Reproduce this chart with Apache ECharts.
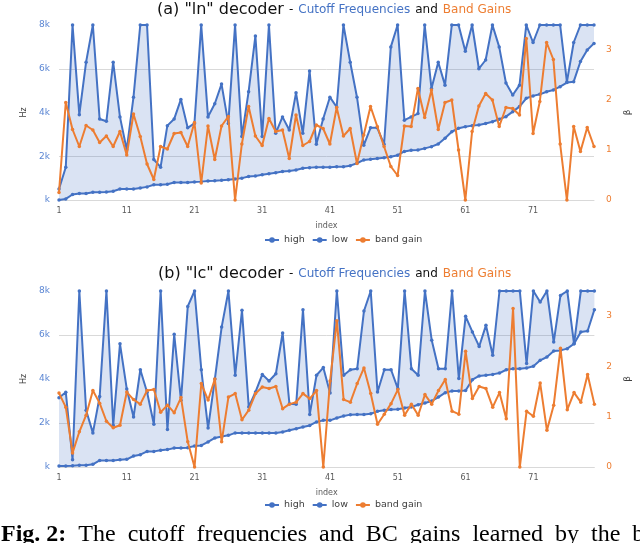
<!DOCTYPE html>
<html><head><meta charset="utf-8">
<script src="https://cdn.jsdelivr.net/npm/echarts@6/dist/echarts.min.js"></script>
<style>html,body{margin:0;padding:0;background:#fff;overflow:hidden}#c{width:640px;height:543px}</style>
</head><body><div id="c"></div>
<script>
const categories = [1,2,3,4,5,6,7,8,9,10,11,12,13,14,15,16,17,18,19,20,21,22,23,24,25,26,27,28,29,30,31,32,33,34,35,36,37,38,39,40,41,42,43,44,45,46,47,48,49,50,51,52,53,54,55,56,57,58,59,60,61,62,63,64,65,66,67,68,69,70,71,72,73,74,75,76,77,78,79,80];
const hzTicks = ['k','2k','4k','6k','8k'];

// (a) "ln" decoder, kHz and beta
const lnHigh = [0.5,1.5,8,3.9,6.3,8,3.7,3.6,6.3,3.8,2.3,4.7,8,8,1.85,1.5,3.4,3.7,4.6,3.3,3.5,8,3.8,4.4,5.3,3.5,8,2.9,4.95,7.5,2.9,8,3.05,3.8,3.2,4.9,3.05,5.9,2.55,3.7,4.7,4.25,8,6.3,4.7,2.5,3.3,3.3,2.55,7.0,8,3.65,3.8,3.95,8,5.1,6.3,5.25,8,8,6.8,8,6.0,6.4,8,7.0,5.35,4.8,5.25,8,7.2,8,8,8,8,5.4,7.2,8,8,8];
const lnLow = [0.0,0.05,0.25,0.3,0.3,0.35,0.35,0.37,0.4,0.5,0.5,0.5,0.55,0.6,0.7,0.7,0.72,0.8,0.8,0.8,0.82,0.84,0.87,0.88,0.9,0.93,0.96,1.0,1.07,1.1,1.15,1.2,1.25,1.3,1.33,1.37,1.45,1.48,1.5,1.5,1.5,1.52,1.52,1.57,1.68,1.83,1.86,1.9,1.93,1.98,2.05,2.22,2.27,2.29,2.36,2.44,2.56,2.82,3.12,3.28,3.35,3.4,3.43,3.5,3.58,3.69,3.81,4.04,4.27,4.65,4.76,4.83,4.95,5.03,5.18,5.37,5.41,6.33,6.86,7.16];
const lnGain = [0.15,1.95,1.41,1.07,1.49,1.4,1.15,1.28,1.07,1.37,0.9,1.72,1.27,0.72,0.41,1.07,1.02,1.33,1.35,1.07,1.55,0.34,1.48,0.81,1.48,1.67,0,1.12,1.87,1.28,1.09,1.63,1.37,1.4,0.83,1.7,1.09,1.17,1.5,1.43,1.12,1.85,1.28,1.43,0.73,1.3,1.87,1.47,1.07,0.67,0.49,1.48,1.47,2.23,1.65,2.2,1.41,1.95,2.0,1.0,0,1.37,1.88,2.13,2.0,1.47,1.85,1.83,1.7,3.23,1.33,1.97,3.15,2.81,1.12,0,1.47,0.97,1.45,1.07];

// (b) "lc" decoder
const lcHigh = [3.15,3.4,0.33,8,2.58,1.55,3.2,8,1.9,5.6,3.55,2.27,4.42,3.4,1.94,8,1.7,6.03,3.03,7.3,8,4.42,1.77,4.0,6.36,8,4.17,7.12,2.73,3.41,4.21,3.91,4.24,6.09,2.88,2.85,7.15,2.39,4.17,4.52,3.36,8,4.17,4.42,4.47,7.09,8,3.41,4.42,4.42,3.56,8,4.47,4.17,8,5.76,4.47,4.47,8,4.02,6.85,6.14,5.48,6.44,5.08,8,8,8,8,4.7,8,7.5,8,5.68,7.8,8,5.6,8,8,8];
const lcLow = [0.05,0.05,0.06,0.08,0.08,0.12,0.3,0.3,0.3,0.33,0.35,0.5,0.56,0.71,0.71,0.76,0.79,0.86,0.86,0.88,0.95,0.98,1.14,1.32,1.39,1.44,1.55,1.55,1.55,1.55,1.55,1.55,1.55,1.59,1.67,1.74,1.82,1.89,2.05,2.12,2.12,2.23,2.32,2.38,2.39,2.39,2.42,2.53,2.58,2.61,2.63,2.68,2.73,2.83,2.91,3.0,3.18,3.38,3.45,3.45,3.48,3.97,4.14,4.17,4.21,4.27,4.42,4.47,4.47,4.5,4.58,4.85,5.0,5.27,5.3,5.38,5.6,6.14,6.18,7.15];
const lcGain = [1.47,1.19,0.28,0.7,1.03,1.52,1.27,0.91,0.78,0.83,1.49,1.34,1.25,1.52,1.54,1.09,1.23,1.08,1.38,0.5,0,1.66,1.33,1.75,0.5,1.39,1.46,0.94,1.13,1.46,1.59,1.56,1.6,1.16,1.25,1.29,1.46,1.36,1.52,0,1.71,2.91,1.34,1.29,1.66,1.97,1.46,0.85,1.05,1.26,1.54,1.03,1.25,1.03,1.44,1.25,1.52,1.74,1.11,1.05,2.3,1.36,1.6,1.56,1.19,1.48,0.96,3.15,0,1.11,1.01,1.67,0.73,1.23,2.36,1.14,1.48,1.29,1.84,1.25];

const captionWords = ['The', 'cutoff', 'frequencies', 'and', 'BC', 'gains', 'learned', 'by', 'the', 'band', 'decoders'];

const BLUE = '#4472c4', ORANGE = '#ed7d31', FONT = 'DejaVu Sans';

function diff(h, l) { return h.map((v, i) => +(v - l[i]).toFixed(3)); }

function axesFor(g, rMargin, rGap) {
  return {
    x: {
      type: 'category', gridIndex: g, data: categories, boundaryGap: false,
      axisLine: { lineStyle: { color: '#d9d9d9', width: 1 } },
      axisTick: { show: false },
      axisLabel: { interval: 9, color: '#595959', fontSize: 8, fontFamily: FONT, margin: 7 },
      name: 'index', nameLocation: 'middle', nameGap: 22,
      nameTextStyle: { color: '#595959', fontSize: 8, fontFamily: FONT },
      splitLine: { show: false }
    },
    yl: {
      type: 'value', gridIndex: g, min: 0, max: 8, interval: 2, position: 'left',
      axisLine: { show: false }, axisTick: { show: false },
      axisLabel: { color: '#5b86d3', fontSize: 9, fontFamily: FONT, margin: 9,
        formatter: v => hzTicks[Math.round(v / 2)] },
      splitLine: { show: true, lineStyle: { color: ['transparent', '#d9d9d9'], width: 1 } },
      name: 'Hz', nameLocation: 'middle', nameGap: 29, nameRotate: 90,
      nameTextStyle: { color: '#404040', fontSize: 8, fontFamily: FONT }
    },
    yr: {
      type: 'value', gridIndex: g, min: 0, max: 3.5, interval: 1, position: 'right',
      axisLine: { show: false }, axisTick: { show: false },
      axisLabel: { color: ORANGE, fontSize: 9, fontFamily: FONT, margin: rMargin, showMaxLabel: false,
        formatter: v => (v > 3 ? '' : String(v)) },
      splitLine: { show: false },
      name: 'β', nameLocation: 'middle', nameGap: rGap, nameRotate: 90,
      nameTextStyle: { color: '#404040', fontSize: 9, fontFamily: FONT }
    }
  };
}

function seriesFor(g, high, low, gain) {
  const xi = g, yl = g * 2, yr = g * 2 + 1, st = 'band' + g;
  const common = { type: 'line', xAxisIndex: xi, symbol: 'circle', symbolSize: 3.5,
    lineStyle: { width: 2 }, emphasis: { disabled: true }, animation: false };
  return [
    Object.assign({}, common, { name: 'low', yAxisIndex: yl, data: low, stack: st, color: BLUE, z: 4 }),
    { type: 'line', name: 'fill' + g, xAxisIndex: xi, yAxisIndex: yl, data: diff(high, low), stack: st,
      symbol: 'none', lineStyle: { opacity: 0, width: 0 }, areaStyle: { color: 'rgba(68,114,196,0.2)', opacity: 1 },
      silent: true, z: 1, animation: false },
    Object.assign({}, common, { name: 'high', yAxisIndex: yl, data: high, color: BLUE, z: 4 }),
    Object.assign({}, common, { name: 'band gain', yAxisIndex: yr, data: gain, color: ORANGE, z: 5 })
  ];
}

const a0 = axesFor(0, 12, 29), a1 = axesFor(1, 12, 26);
const titleRich = {
  a: { fontSize: 16, color: '#111', fontFamily: FONT, fontWeight: 'normal' },
  b: { fontSize: 12, color: '#111', fontFamily: FONT, fontWeight: 'normal' },
  c: { fontSize: 12, color: BLUE, fontFamily: FONT, fontWeight: 'normal' },
  e: { fontSize: 12, color: ORANGE, fontFamily: FONT, fontWeight: 'normal' }
};
const legendBase = { data: ['high', 'low', 'band gain'], left: 259, itemWidth: 14, itemHeight: 7, itemGap: 7,
  textStyle: { color: '#404040', fontSize: 9.5, fontFamily: FONT } };

const captionText = '{f|Fig. 2:}{s| }' + captionWords.map(w => '{t|' + w + '}').join('{s| }');

const option = {
  backgroundColor: '#fff',
  animation: false,
  title: [
    { text: '{a|(a) "ln" decoder} {b|-} {c|Cutoff Frequencies} {b|and} {e|Band Gains}', left: 157, top: 1, padding: 0,
      textStyle: { fontWeight: 'normal', rich: titleRich } },
    { text: '{a|(b) "lc" decoder} {b|-} {c|Cutoff Frequencies} {b|and} {e|Band Gains}', left: 158, top: 265, padding: 0,
      textStyle: { fontWeight: 'normal', rich: titleRich } }
  ],
  legend: [
    Object.assign({}, legendBase, { top: 230 }),
    Object.assign({}, legendBase, { top: 495 })
  ],
  grid: [
    { left: 59, top: 25, width: 544, height: 175 },
    { left: 59, top: 291, width: 552, height: 176 }
  ],
  xAxis: [a0.x, a1.x],
  yAxis: [a0.yl, a0.yr, a1.yl, a1.yr],
  series: seriesFor(0, lnHigh, lnLow, lnGain).concat(seriesFor(1, lcHigh, lcLow, lcGain)),
  graphic: [{
    type: 'text', left: 1, top: 523,
    style: {
      text: captionText,
      rich: {
        f: { font: 'bold 24px "Liberation Serif"', fill: '#000' },
        t: { font: '24px "Liberation Serif"', fill: '#000' },
        s: { font: '24px "Liberation Serif"', width: 12 }
      }
    }
  }]
};

const chart = echarts.init(document.getElementById('c'), null, { renderer: 'canvas' });
chart.setOption(option);
</script>
</body></html>
